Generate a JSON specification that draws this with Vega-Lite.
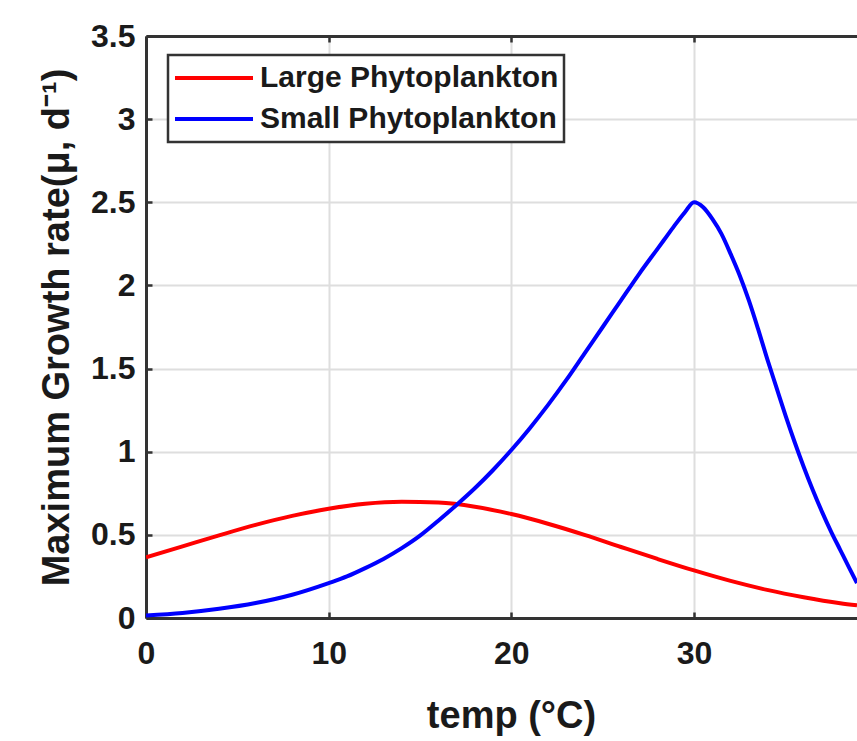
{
  "$schema": "https://vega.github.io/schema/vega-lite/v6.json",
  "width": 711,
  "height": 582,
  "autosize": {"type": "none"},
  "padding": {"left": 146, "top": 36, "right": 0, "bottom": 123},
  "background": "white",
  "config": {
    "font": "Liberation Sans",
    "view": {"stroke": null},
    "legend": {"strokeWidth": 2.5},
    "axis": {
      "labelFont": "Liberation Sans",
      "labelFontWeight": "bold",
      "labelFontSize": 32,
      "labelColor": "#1a1a1a",
      "labelFlush": false,
      "titleFont": "Liberation Sans",
      "titleFontWeight": "bold",
      "titleFontSize": 38,
      "titleColor": "#1a1a1a",
      "domainColor": "#333333",
      "domainWidth": 3,
      "tickColor": "#333333",
      "tickWidth": 2.5,
      "tickSize": -6,
      "gridColor": "#dedede",
      "gridWidth": 2
    }
  },
  "data": {
    "values": [
      {"t": 0, "v": 0.365, "s": "Large Phytoplankton"},
      {"t": 2, "v": 0.431, "s": "Large Phytoplankton"},
      {"t": 4, "v": 0.497, "s": "Large Phytoplankton"},
      {"t": 6, "v": 0.56, "s": "Large Phytoplankton"},
      {"t": 8, "v": 0.614, "s": "Large Phytoplankton"},
      {"t": 10, "v": 0.657, "s": "Large Phytoplankton"},
      {"t": 12, "v": 0.687, "s": "Large Phytoplankton"},
      {"t": 14, "v": 0.699, "s": "Large Phytoplankton"},
      {"t": 16, "v": 0.694, "s": "Large Phytoplankton"},
      {"t": 18, "v": 0.669, "s": "Large Phytoplankton"},
      {"t": 20, "v": 0.625, "s": "Large Phytoplankton"},
      {"t": 22, "v": 0.567, "s": "Large Phytoplankton"},
      {"t": 24, "v": 0.50, "s": "Large Phytoplankton"},
      {"t": 26, "v": 0.427, "s": "Large Phytoplankton"},
      {"t": 28, "v": 0.355, "s": "Large Phytoplankton"},
      {"t": 30, "v": 0.286, "s": "Large Phytoplankton"},
      {"t": 32, "v": 0.223, "s": "Large Phytoplankton"},
      {"t": 34, "v": 0.169, "s": "Large Phytoplankton"},
      {"t": 36, "v": 0.125, "s": "Large Phytoplankton"},
      {"t": 38, "v": 0.089, "s": "Large Phytoplankton"},
      {"t": 38.92, "v": 0.076, "s": "Large Phytoplankton"},
      {"t": 0, "v": 0.015, "s": "Small Phytoplankton"},
      {"t": 2, "v": 0.03, "s": "Small Phytoplankton"},
      {"t": 4, "v": 0.055, "s": "Small Phytoplankton"},
      {"t": 6, "v": 0.09, "s": "Small Phytoplankton"},
      {"t": 8, "v": 0.14, "s": "Small Phytoplankton"},
      {"t": 10, "v": 0.21, "s": "Small Phytoplankton"},
      {"t": 11, "v": 0.25, "s": "Small Phytoplankton"},
      {"t": 12, "v": 0.30, "s": "Small Phytoplankton"},
      {"t": 13, "v": 0.355, "s": "Small Phytoplankton"},
      {"t": 14, "v": 0.42, "s": "Small Phytoplankton"},
      {"t": 15, "v": 0.495, "s": "Small Phytoplankton"},
      {"t": 16, "v": 0.585, "s": "Small Phytoplankton"},
      {"t": 17, "v": 0.68, "s": "Small Phytoplankton"},
      {"t": 18, "v": 0.78, "s": "Small Phytoplankton"},
      {"t": 19, "v": 0.89, "s": "Small Phytoplankton"},
      {"t": 20, "v": 1.01, "s": "Small Phytoplankton"},
      {"t": 21, "v": 1.14, "s": "Small Phytoplankton"},
      {"t": 22, "v": 1.28, "s": "Small Phytoplankton"},
      {"t": 23, "v": 1.43, "s": "Small Phytoplankton"},
      {"t": 24, "v": 1.59, "s": "Small Phytoplankton"},
      {"t": 25, "v": 1.75, "s": "Small Phytoplankton"},
      {"t": 26, "v": 1.91, "s": "Small Phytoplankton"},
      {"t": 27, "v": 2.07, "s": "Small Phytoplankton"},
      {"t": 28, "v": 2.22, "s": "Small Phytoplankton"},
      {"t": 28.5, "v": 2.295, "s": "Small Phytoplankton"},
      {"t": 29, "v": 2.37, "s": "Small Phytoplankton"},
      {"t": 29.5, "v": 2.44, "s": "Small Phytoplankton"},
      {"t": 30, "v": 2.50, "s": "Small Phytoplankton"},
      {"t": 30.5, "v": 2.47, "s": "Small Phytoplankton"},
      {"t": 31, "v": 2.40, "s": "Small Phytoplankton"},
      {"t": 31.5, "v": 2.31, "s": "Small Phytoplankton"},
      {"t": 32, "v": 2.19, "s": "Small Phytoplankton"},
      {"t": 32.5, "v": 2.06, "s": "Small Phytoplankton"},
      {"t": 33, "v": 1.91, "s": "Small Phytoplankton"},
      {"t": 33.5, "v": 1.74, "s": "Small Phytoplankton"},
      {"t": 34, "v": 1.56, "s": "Small Phytoplankton"},
      {"t": 34.5, "v": 1.39, "s": "Small Phytoplankton"},
      {"t": 35, "v": 1.22, "s": "Small Phytoplankton"},
      {"t": 35.5, "v": 1.06, "s": "Small Phytoplankton"},
      {"t": 36, "v": 0.91, "s": "Small Phytoplankton"},
      {"t": 36.5, "v": 0.77, "s": "Small Phytoplankton"},
      {"t": 37, "v": 0.64, "s": "Small Phytoplankton"},
      {"t": 37.5, "v": 0.52, "s": "Small Phytoplankton"},
      {"t": 38, "v": 0.41, "s": "Small Phytoplankton"},
      {"t": 38.5, "v": 0.30, "s": "Small Phytoplankton"},
      {"t": 38.92, "v": 0.21, "s": "Small Phytoplankton"}
    ]
  },
  "layer": [
    {
      "mark": {"type": "line", "strokeWidth": 4, "interpolate": "monotone", "clip": true},
      "encoding": {
        "x": {
          "field": "t", "type": "quantitative",
          "scale": {"domain": [0, 38.92], "nice": false, "zero": false},
          "axis": {
            "orient": "bottom",
            "values": [0, 10, 20, 30],
            "format": "d",
            "labelPadding": 41,
            "labelBaseline": "middle",
            "title": "temp (°C)",
            "titleX": 365,
            "titleY": 109,
            "titleBaseline": "alphabetic",
            "titleAnchor": "middle",
            "titleAlign": "center"
          }
        },
        "y": {
          "field": "v", "type": "quantitative",
          "scale": {"domain": [0, 3.5], "nice": false},
          "axis": {
            "orient": "left",
            "values": [0, 0.5, 1, 1.5, 2, 2.5, 3, 3.5],
            "format": "~g",
            "labelPadding": 17,
            "title": "Maximum Growth rate(μ, d⁻¹)",
            "titleAngle": -90,
            "titleX": -78,
            "titleY": 291,
            "titleBaseline": "alphabetic",
            "titleAlign": "center"
          }
        },
        "color": {
          "field": "s", "type": "nominal",
          "scale": {"domain": ["Large Phytoplankton", "Small Phytoplankton"], "range": ["#ff0000", "#0000ff"]},
          "legend": {
            "title": null,
            "orient": "none",
            "legendX": 22,
            "legendY": 19,
            "padding": 5,
            "strokeColor": "#333333",
            "fillColor": "white",
            "symbolType": "stroke",
            "symbolSize": 6084,
            "symbolStrokeWidth": 4,
            "clipHeight": 36,
            "rowPadding": 5,
            "labelOffset": 5,
            "labelFont": "Liberation Sans",
            "labelFontWeight": "bold",
            "labelFontSize": 30,
            "labelColor": "#1a1a1a",
            "labelLimit": 500
          }
        }
      }
    },
    {
      "mark": {"type": "line", "opacity": 0},
      "encoding": {
        "x": {
          "field": "t", "type": "quantitative",
          "axis": {"orient": "top", "values": [0, 10, 20, 30], "labels": false, "grid": false, "title": null}
        },
        "y": {"field": "v", "type": "quantitative", "axis": null},
        "detail": {"field": "s"}
      }
    }
  ],
  "resolve": {"axis": {"x": "independent", "y": "independent"}}
}
